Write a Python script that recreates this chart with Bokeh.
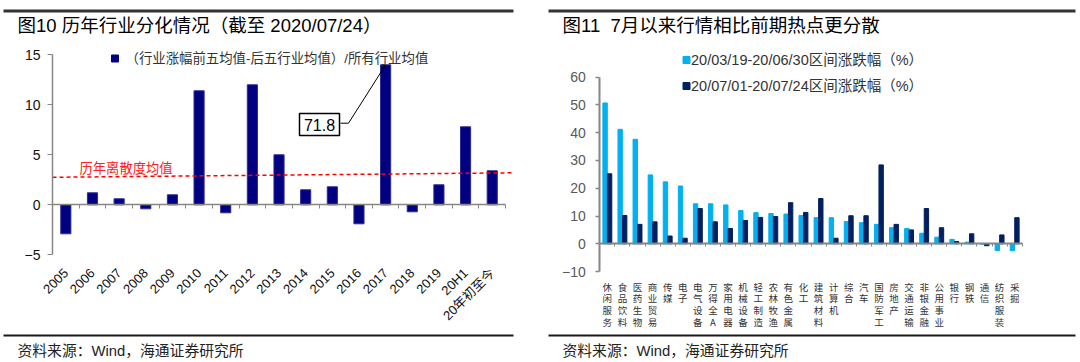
import numpy as np
from math import pi
from bokeh.plotting import figure
from bokeh.models import Range1d, LinearAxis, FixedTicker
from bokeh.layouts import row
from bokeh.core.properties import value
from bokeh.embed import file_html
from bokeh.resources import INLINE

# ---------------- data: left chart ----------------
years = ["2005", "2006", "2007", "2008", "2009", "2010", "2011", "2012", "2013",
         "2014", "2015", "2016", "2017", "2018", "2019", "20H1", "20年初至今"]
dispersion = [-2.9, 1.2, 0.6, -0.4, 1.0, 11.4, -0.8, 12.0, 5.0,
              1.5, 1.8, -1.9, 71.8, -0.7, 2.0, 7.8, 3.4]
dispersion_cap = 14.0          # 2017 bar is drawn broken; real value shown in callout
avg_dispersion = [2.75, 3.2]   # dashed "历年离散度均值" line (start, end)
left_yticks = [-5, 0, 5, 10, 15]
left_title = "图10 历年行业分化情况（截至 2020/07/24）"
left_legend = "（行业涨幅前五均值-后五行业均值）/所有行业均值"
avg_label = "历年离散度均值"

# ---------------- data: right chart ----------------
industries = ["休闲服务", "食品饮料", "医药生物", "商业贸易", "传媒", "电子", "电气设备",
              "万得全A", "家用电器", "机械设备", "轻工制造", "农林牧渔", "有色金属", "化工",
              "建筑材料", "计算机", "综合", "汽车", "国防军工", "房地产", "交通运输",
              "非银金融", "公用事业", "银行", "钢铁", "通信", "纺织服装", "采掘"]
rally_0319_0630 = [50.7, 41.2, 37.6, 24.8, 22.3, 20.8, 14.4, 14.4, 14.0, 12.0, 11.2,
                   10.9, 10.7, 10.2, 9.4, 9.4, 8.0, 7.6, 7.0, 5.8, 5.5, 3.8, 2.4, 1.6,
                   0.6, -0.1, -2.4, -2.5]
rally_0701_0724 = [25.2, 10.2, 7.0, 7.9, 2.8, 2.0, 12.7, 7.9, 5.5, 8.4, 9.5,
                   9.8, 14.8, 11.3, 16.3, 2.0, 10.1, 10.1, 28.4, 7.0, 5.0, 12.7, 5.8, 0.8,
                   3.6, -0.7, 3.2, 9.4]
right_yticks = [-10, 0, 10, 20, 30, 40, 50, 60]
right_title = "图11\u00a0\u00a07月以来行情相比前期热点更分散"
right_legend = ["20/03/19-20/06/30区间涨跌幅（%）", "20/07/01-20/07/24区间涨跌幅（%）"]
source_note = "资料来源：Wind，海通证券研究所"

FONT = "Liberation Sans, Noto Sans CJK SC"
CJK = "Noto Sans CJK SC"
W, H = 540, 362
AXIS_GREY = "#868686"


def make_fig(xr, yr):
    p = figure(width=W, height=H, x_range=Range1d(*xr), y_range=Range1d(*yr),
               x_axis_type=None, y_axis_type=None, toolbar_location=None,
               output_backend="svg", min_border=0, outline_line_color=None)
    p.min_border_left = p.min_border_right = 0
    p.min_border_top = p.min_border_bottom = 0
    p.title.visible = False
    return p


def header_footer(p, fx, fy, x_start, x_end, x_text, title):
    p.quad(left=[fx(x_start)], right=[fx(x_end)], top=[fy(9)], bottom=[fy(12)],
           fill_color="#333333", line_color=None)
    p.text(x=[fx(x_text)], y=[fy(24.5)], text=[title], text_font=value(FONT),
           text_font_size="18.5px", text_color="#000000", text_baseline="middle")
    p.quad(left=[fx(x_start)], right=[fx(x_end)], top=[fy(334)], bottom=[fy(336)],
           fill_color="#1a1a1a", line_color=None)
    p.text(x=[fx(x_text)], y=[fy(350)], text=[source_note], text_font=value(FONT),
           text_font_size="14.8px", text_color="#222222", text_baseline="middle")


# ================= left chart =================
LX0, LPX = 52.0, 26.65
LY0, LPY = 204.3, 10.0
def lx(px): return (px - LX0) / LPX
def ly(py): return (LY0 - py) / LPY

pl = make_fig((lx(0), lx(W)), (ly(H), ly(0)))
n = len(years)
xc = np.arange(n) + 0.5
top = np.minimum(np.array(dispersion), dispersion_cap)
pl.vbar(x=xc, top=top, bottom=0, width=0.38, fill_color="#000080",
        line_color="#2b2b95", line_width=1)

pl.line(x=[0, lx(513)], y=avg_dispersion, line_color="#ff0000", line_width=1.5,
        line_dash="4 3")
pl.text(x=[lx(79)], y=[ly(166.7)], text=[avg_label], text_font=value(CJK),
        text_font_size="13.3px", text_color="#ff2020", text_baseline="middle")

yax = LinearAxis(fixed_location=0, bounds=(left_yticks[0], left_yticks[-1]),
                 ticker=FixedTicker(ticks=left_yticks))
yax.axis_line_color = AXIS_GREY
yax.axis_line_width = 1.5
yax.major_tick_line_color = AXIS_GREY
yax.major_tick_out = 5
yax.major_tick_in = 0
yax.minor_tick_line_color = None
yax.major_label_text_font = FONT
yax.major_label_text_font_size = "14px"
yax.major_label_text_color = "#111111"
yax.major_label_standoff = 7
pl.add_layout(yax, "left")

xax0 = LinearAxis(fixed_location=0, bounds=(0, n), ticker=FixedTicker(ticks=list(range(n + 1))))
xax0.major_label_overrides = {i: "" for i in range(n + 1)}
xax0.axis_line_color = AXIS_GREY
xax0.axis_line_width = 1.5
xax0.major_tick_line_color = AXIS_GREY
xax0.major_tick_out = 4
xax0.major_tick_in = 0
xax0.minor_tick_line_color = None
pl.add_layout(xax0, "below")

xlab = LinearAxis(fixed_location=left_yticks[0], bounds=(0, n), ticker=FixedTicker(ticks=list(xc)))
xlab.major_label_overrides = {float(x): y for x, y in zip(xc, years)}
xlab.axis_line_color = None
xlab.major_tick_line_color = None
xlab.minor_tick_line_color = None
xlab.major_label_orientation = pi / 4
xlab.major_label_text_font = FONT
xlab.major_label_text_font_size = "13px"
xlab.major_label_text_color = "#111111"
xlab.major_label_standoff = 10
pl.add_layout(xlab, "below")

# callout for the broken 2017 bar
i17 = years.index("2017")
pl.line(x=[lx(340), lx(348), xc[i17]], y=[ly(122.7), ly(122.7), top[i17]],
        line_color="#000000", line_width=1)
pl.rect(x=[lx(319)], y=[ly(124)], width=40, height=22, width_units="screen",
        height_units="screen", fill_color="#ffffff", line_color="#000000", line_width=1.5)
pl.text(x=[lx(319)], y=[ly(124)], text=["%.1f" % dispersion[i17]], text_font=value(FONT),
        text_font_size="16px", text_color="#000000", text_align="center",
        text_baseline="middle")

# legend
pl.scatter(x=[lx(114.5)], y=[ly(58)], marker="square", size=7, fill_color="#000080",
           line_color="#000080")
pl.text(x=[lx(125)], y=[ly(58)], text=[left_legend], text_font=value(FONT),
        text_font_size="13.4px", text_color="#333333", text_baseline="middle")

header_footer(pl, lx, ly, 3, 513, 17, left_title)

# ================= right chart =================
RX0, RPX = 59.3, 15.086
RY0, RPY = 243.3, 2.778
def rx(px): return (px - RX0) / RPX
def ry(py): return (RY0 - py) / RPY

pr = make_fig((rx(0), rx(W)), (ry(H), ry(0)))
m = len(industries)
rc = np.arange(m) + 0.5
pr.vbar(x=rc - 0.15, top=rally_0319_0630, bottom=0, width=0.29, fill_color="#00b0f0",
        line_color="#00b0f0")
pr.vbar(x=rc + 0.15, top=rally_0701_0724, bottom=0, width=0.29, fill_color="#002060",
        line_color="#002060")

ryax = LinearAxis(fixed_location=0, bounds=(right_yticks[0], right_yticks[-1]),
                  ticker=FixedTicker(ticks=right_yticks))
ryax.axis_line_color = AXIS_GREY
ryax.axis_line_width = 2
ryax.major_tick_line_color = AXIS_GREY
ryax.major_tick_line_width = 1.5
ryax.major_tick_out = 4
ryax.major_tick_in = 0
ryax.minor_tick_line_color = None
ryax.major_label_text_font = FONT
ryax.major_label_text_font_size = "14px"
ryax.major_label_text_color = "#595959"
ryax.major_label_standoff = 10
pr.add_layout(ryax, "left")

rxax0 = LinearAxis(fixed_location=0, bounds=(0, m), ticker=FixedTicker(ticks=list(range(m + 1))))
rxax0.major_label_overrides = {i: "" for i in range(m + 1)}
rxax0.axis_line_color = AXIS_GREY
rxax0.axis_line_width = 2
rxax0.major_tick_line_color = AXIS_GREY
rxax0.major_tick_out = 3
rxax0.major_tick_in = 0
rxax0.minor_tick_line_color = None
pr.add_layout(rxax0, "below")

# vertical (stacked) category labels below the -10 line
pr.text(x=rc, y=[ry(279)] * m, text=["\n".join(name) for name in industries],
        text_font=value(CJK), text_font_size="9.5px", text_line_height=0.85,
        text_color="#333333", text_align="center", text_baseline="top")

# legend
for k, (lab, col) in enumerate(zip(right_legend, ["#00b0f0", "#002060"])):
    yy = [59.5, 85.5][k]
    pr.scatter(x=[rx(146)], y=[ry(yy)], marker="square", size=7, fill_color=col, line_color=col)
    pr.text(x=[rx(150.5)], y=[ry(yy)], text=[lab], text_font=value(FONT),
            text_font_size="14.5px", text_color="#333333", text_baseline="middle")

header_footer(pr, rx, ry, 8, 535, 22, right_title)

layout = row(pl, pr)
open("out.html", "w").write(file_html(layout, INLINE))
